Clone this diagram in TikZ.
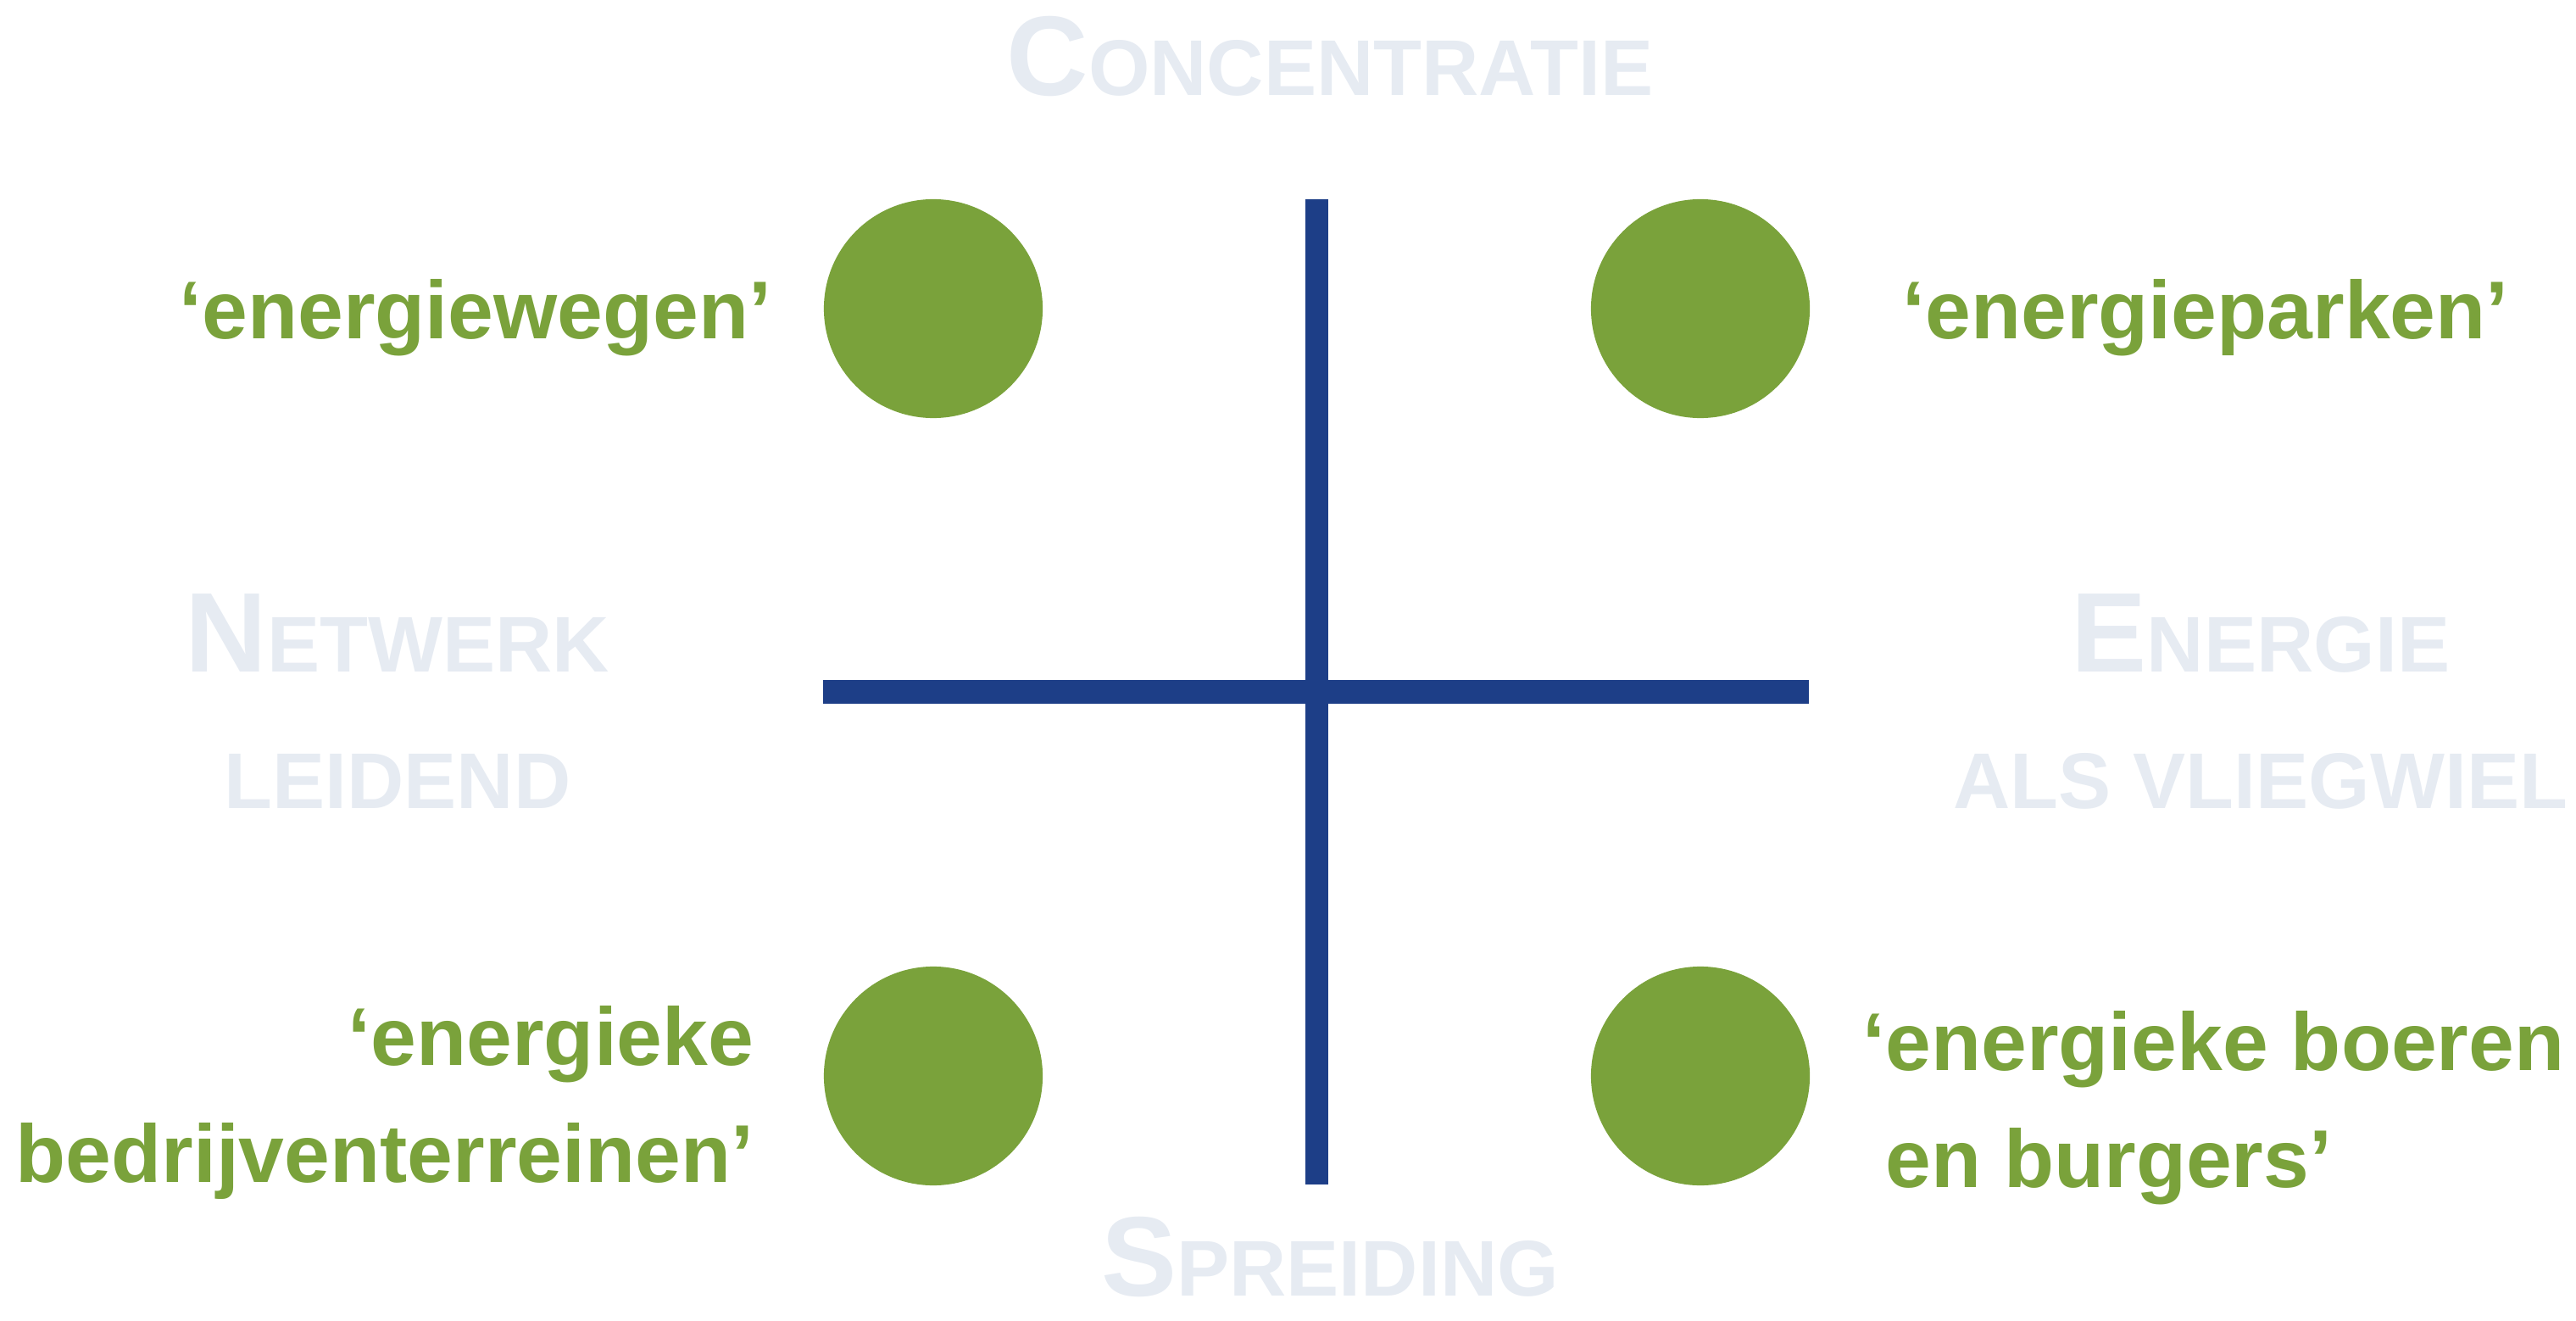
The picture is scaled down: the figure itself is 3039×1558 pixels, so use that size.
\documentclass[tikz,border=0pt]{standalone}
\usepackage{fontspec}
\setmainfont{Liberation Sans}
\usepackage{xcolor}
\usepackage{tikz}
\definecolor{axisblue}{RGB}{29,62,135}
\definecolor{dotgreen}{RGB}{122,162,59}
\definecolor{axisgrey}{RGB}{230,235,242}
\newcommand{\scword}[2]{{\fontsize{38}{38}\selectfont #1}{\fontsize{26.5}{26.5}\selectfont #2}}

\begin{document}
\begin{tikzpicture}[
    x=0.01cm, y=-0.01cm,
    axis/.style={draw=axisblue, line width=2.7mm},
    dot/.style={circle, fill=dotgreen, minimum size=2.58cm, inner sep=0pt},
    qlabel/.style={text=dotgreen, inner sep=0pt,
                   font=\fontsize{27.5}{39}\selectfont\bfseries},
    dirlabel/.style={text=axisgrey, inner sep=0pt, align=center,
                     font=\fontsize{26.5}{45.5}\selectfont\bfseries},
]
\useasboundingbox (0,0) rectangle (3039,1558);

% === axes ===
\coordinate (vtop) at (1553,235);
\coordinate (vbot) at (1553,1397);
\coordinate (hleft) at (971,816);
\coordinate (hright) at (2134,816);
\draw[axis] (vtop) -- (vbot);
\draw[axis] (hleft) -- (hright);

% === quadrant dots ===
\node[dot] (tl) at (1101,364) {};
\node[dot] (tr) at (2006,364) {};
\node[dot] (bl) at (1101,1269) {};
\node[dot] (br) at (2006,1269) {};

% === quadrant labels (base = last line) ===
\node[qlabel, anchor=base east] (ltl) at (911,400) {‘energiewegen’};
\node[qlabel, anchor=base west] (ltr) at (2244,400) {‘energieparken’};
\node[qlabel, anchor=base east, align=right] (lbl) at (890,1394)
    {‘energieke\\bedrijventerreinen’};
\node[qlabel, anchor=base west, align=left] (lbr) at (2197,1400)
    {‘energieke boeren\\\hphantom{‘}en burgers’};

% === axis labels ===
\node[dirlabel, anchor=base] (conc) at (1569,113) {\scword{C}{ONCENTRATIE}};
\node[dirlabel, anchor=base] (spre) at (1569,1528) {\scword{S}{PREIDING}};
\node[dirlabel, anchor=base] (netw) at (469,953) {\scword{N}{ETWERK}\\LEIDEND};
\node[dirlabel, anchor=base] (ener) at (2667,953) {\scword{E}{NERGIE}\\ALS VLIEGWIEL};

\end{tikzpicture}
\end{document}
